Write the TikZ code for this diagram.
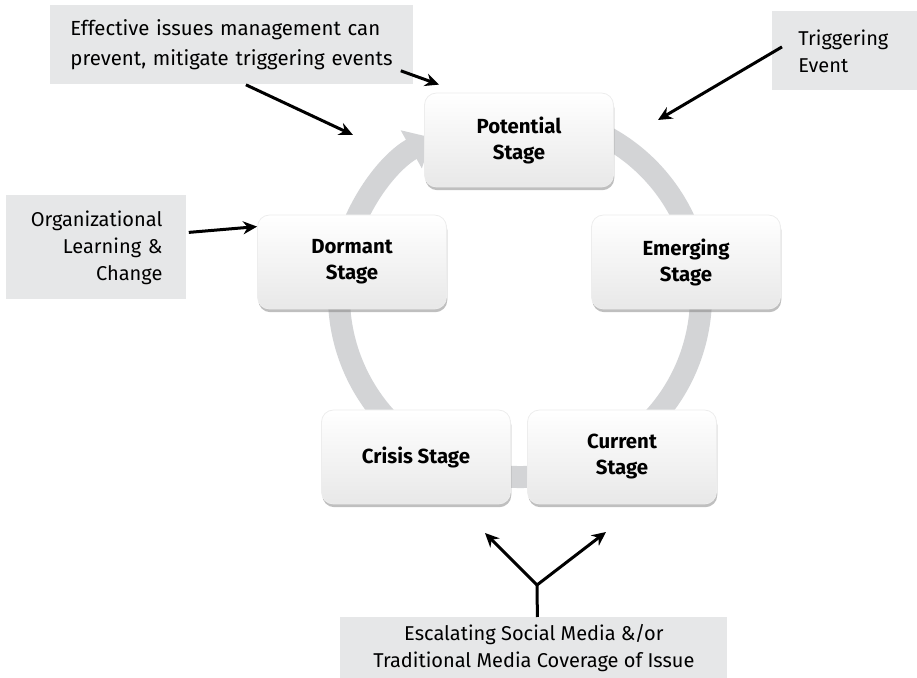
\documentclass[tikz,border=0pt]{standalone}
\usepackage{fontspec}
\setmainfont{Fira Sans}
\usetikzlibrary{shapes,arrows.meta,positioning,shadows,calc}
\definecolor{notegray}{HTML}{E6E7E8}
\definecolor{ringgray}{HTML}{D3D4D6}

\begin{document}
\begin{tikzpicture}[x=0.5pt, y=0.5pt,
    stage/.style={rounded corners=6pt, minimum width=94.5pt, minimum height=47pt, align=center, font=\bfseries\fontsize{10.2}{13}\selectfont,
        top color=white, bottom color=black!9, draw=black!7,
        drop shadow={shadow xshift=0.4pt, shadow yshift=-1.6pt, opacity=0.5}},
    note/.style={fill=notegray, inner ysep=0pt, font=\fontsize{10}{13.5}\selectfont},
    arrow/.style={-{Stealth[length=7pt, width=6.5pt]}, line width=1.5pt},
    ringarrow/.style={line width=11pt, draw=ringgray, -{Triangle[width=21pt, length=12pt]}}
]
    \useasboundingbox (0,0) rectangle (917,-678);

    % grey cycle behind the stages
    \draw[ringarrow] (520,-296) ++(75:90.5pt) arc[start angle=75, end angle=-241, radius=90.5pt];

    \node[stage] (potential) at (519,-140) {Potential\\Stage};
    \node[stage] (emerging) at (686,-262) {Emerging\\Stage};
    \node[stage] (current) at (622,-457) {Current\\Stage};
    \node[stage] (crisis) at (416,-457) {Crisis Stage};
    \node[stage] (dormant) at (352,-262) {Dormant\\Stage};

    \node[note, anchor=north west, minimum height=39.5pt, inner xsep=10pt, text width=161.5pt, align=left,
        font=\fontsize{10.2}{15}\selectfont] (effect) at (50,-5)
        {Effective issues management can\\prevent, mitigate triggering events};
    \node[note, anchor=north west, minimum height=39.5pt, inner xsep=13pt, text width=46.5pt, align=left] (trig) at (772,-11)
        {Triggering\\Event};
    \node[note, anchor=north west, minimum height=52pt, inner xsep=12pt, text width=66pt, align=right] (org) at (6,-195)
        {Organizational\\Learning \&\\Change};
    \node[note, anchor=north west, minimum height=30.5pt, minimum width=193.5pt, align=center] (media) at (340,-617)
        {Escalating Social Media \&/or\\Traditional Media Coverage of Issue};

    \coordinate (effTip) at (353,-135);
    \coordinate (trigTip) at (658,-120);
    \coordinate (fork) at (537,-585);
    \coordinate (crisisTip) at (485,-533);
    \coordinate (currentTip) at (606,-532);

    \draw[arrow] ($(effect.south)+(14,0)$) -- (effTip);
    \draw[arrow] ($(effect.south east)+(-13,14)$) -- ($(potential.north west)+(15,8)$);
    \draw[arrow] ($(trig.west)+(10,4)$) -- (trigTip);
    \draw[arrow] ($(org.east)+(2,15)$) -- ($(dormant.north west)+(0,-12)$);
    % fork from the media box up to crisis and current
    \draw[line width=1.5pt] ($(media.north)+(3.5,0)$) -- (fork);
    \draw[arrow] (fork) -- (crisisTip);
    \draw[arrow] (fork) -- (currentTip);
\end{tikzpicture}
\end{document}
